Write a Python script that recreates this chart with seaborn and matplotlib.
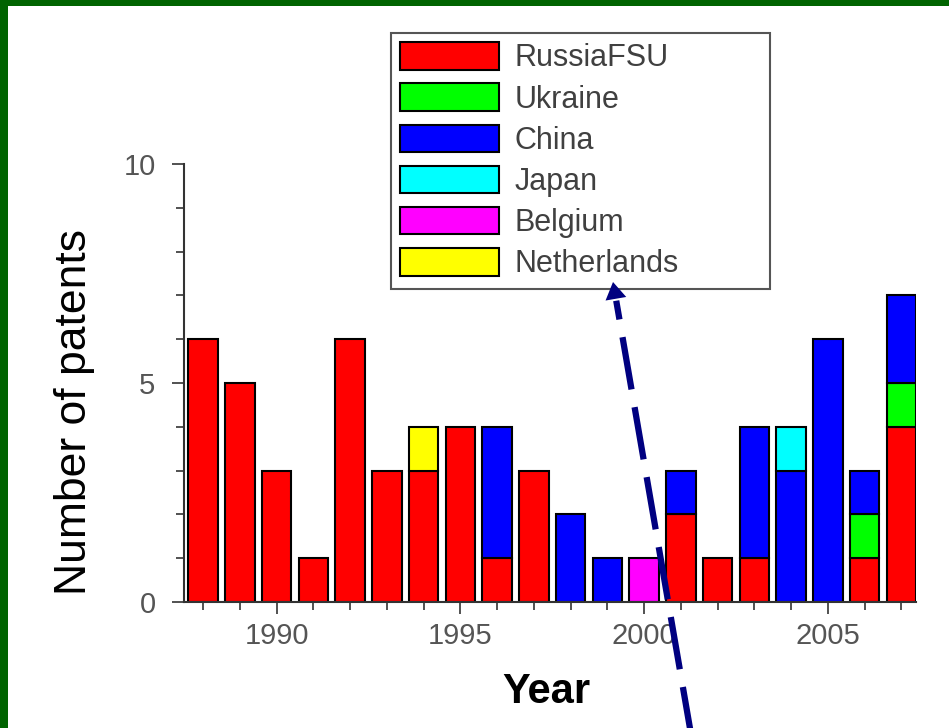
import numpy as np
import pandas as pd
import matplotlib
matplotlib.use("Agg")
import matplotlib.pyplot as plt
from matplotlib.patches import Patch, Rectangle, Polygon
from matplotlib.lines import Line2D
from matplotlib.ticker import MultipleLocator, FixedLocator
import seaborn as sns

# Patent counts per year and country of origin
years = [1988, 1989, 1990, 1991, 1992, 1993, 1994, 1995, 1996, 1997,
         1998, 1999, 2000, 2001, 2002, 2003, 2004, 2005, 2006, 2007]
russia_fsu = [6, 5, 3, 1, 6, 3, 3, 4, 1, 3, 0, 0, 0, 2, 1, 1, 0, 0, 1, 4]
ukraine = [0, 0, 0, 0, 0, 0, 0, 0, 0, 0, 0, 0, 0, 0, 0, 0, 0, 0, 1, 1]
china = [0, 0, 0, 0, 0, 0, 0, 0, 3, 0, 2, 1, 0, 1, 0, 3, 3, 6, 1, 2]
japan = [0, 0, 0, 0, 0, 0, 0, 0, 0, 0, 0, 0, 0, 0, 0, 0, 1, 0, 0, 0]
belgium = [0, 0, 0, 0, 0, 0, 0, 0, 0, 0, 0, 0, 1, 0, 0, 0, 0, 0, 0, 0]
netherlands = [0, 0, 0, 0, 0, 0, 1, 0, 0, 0, 0, 0, 0, 0, 0, 0, 0, 0, 0, 0]

countries = ["RussiaFSU", "Ukraine", "China", "Japan", "Belgium", "Netherlands"]
colors = ["#FF0000", "#00FF00", "#0000FF", "#00FFFF", "#FF00FF", "#FFFF00"]
series = [russia_fsu, ukraine, china, japan, belgium, netherlands]

rows = []
for name, values in zip(countries, series):
    for yr, v in zip(years, values):
        rows.append({"year": yr, "country": name, "count": v})
df = pd.DataFrame(rows)

sns.set_style("ticks")
plt.rcParams["font.family"] = ["Liberation Sans", "DejaVu Sans"]

W, H = 949, 728
fig = plt.figure(figsize=(W / 100, H / 100), dpi=100)
fig.patch.set_facecolor("white")

# dark green frame along the top and left edges
fig.add_artist(Rectangle((0, 1 - 6 / H), 1, 6 / H, transform=fig.transFigure,
                         facecolor="#006400", edgecolor="none", zorder=10))
fig.add_artist(Rectangle((0, 0), 8 / W, 1, transform=fig.transFigure,
                         facecolor="#006400", edgecolor="none", zorder=10))

ax = fig.add_axes([184 / W, 126 / H, 732 / W, 438 / H])
ax.set_facecolor("white")

# seaborn stacks the first hue level on top, so list the bottom series last
stack_order = countries[::-1]
palette = dict(zip(countries, colors))
sns.histplot(data=df, x="year", weights="count", hue="country",
             hue_order=stack_order, multiple="stack", discrete=True,
             shrink=0.8, palette=palette, alpha=1, edgecolor="black",
             linewidth=1.5, legend=False, ax=ax)

# drop empty segments so they do not add stray outlines on top of stacks
for p in list(ax.patches):
    if p.get_height() == 0:
        p.remove()

ax.set_xlim(1987.48, 2007.4)
ax.set_ylim(0, 10)
ax.set_xlabel("")
ax.set_ylabel("")

sns.despine(ax=ax)
for side in ("left", "bottom"):
    ax.spines[side].set_color("#333333")
    ax.spines[side].set_linewidth(1.5)

ax.xaxis.set_major_locator(FixedLocator([1990, 1995, 2000, 2005]))
ax.xaxis.set_minor_locator(FixedLocator(years))
ax.yaxis.set_major_locator(MultipleLocator(5))
ax.yaxis.set_minor_locator(MultipleLocator(1))
ax.tick_params(which="major", direction="out", length=8.5, width=1.2,
               color="#333333", labelsize=21, labelcolor="#555555")
ax.tick_params(which="minor", direction="out", length=6, width=1.2,
               color="#333333")
ax.tick_params(axis="y", which="major", pad=12)
ax.tick_params(axis="x", which="major", pad=6)

fig.text(75 / W, 1 - 412 / H, "Number of patents", rotation=90,
         ha="center", va="center", fontsize=32, color="black")
fig.text(546 / W, 1 - 692 / H, "Year", ha="center", va="center",
         fontsize=30, fontweight="bold", color="black")

handles = [Patch(facecolor=c, edgecolor="black", linewidth=1.5) for c in colors]
leg = ax.legend(handles, countries, loc="upper left",
                bbox_to_anchor=(391 / W, 1 - 288 / H, 379 / W, 255 / H),
                bbox_transform=fig.transFigure, mode="expand",
                fontsize=22, frameon=True, fancybox=False, shadow=False,
                handlelength=3.25, handleheight=1.0, handletextpad=0.5,
                labelspacing=0.33, borderpad=0.3, borderaxespad=0)
leg.get_frame().set_edgecolor("#555555")
leg.get_frame().set_linewidth(1.5)
leg.get_frame().set_alpha(1)
for t in leg.get_texts():
    t.set_color("#404040")

# dashed pointer arrow rising toward the legend
navy = "#000080"
tip = np.array([613.0, 282.0])
tail = np.array([692.0, 740.0])
d = (tail - tip) / np.linalg.norm(tail - tip)
perp = np.array([d[1], -d[0]])
head_len, head_half = 17.0, 10.5
base = tip + head_len * d
lw_pt = 4.5
px_per_unit = lw_pt * 100 / 72
dash, gap = 53 / px_per_unit, 18 / px_per_unit
offset = 34 / px_per_unit
to_fig = lambda p: (p[0] / W, 1 - p[1] / H)
start = base + 2 * d
fig.add_artist(Line2D([to_fig(start)[0], to_fig(tail)[0]],
                      [to_fig(start)[1], to_fig(tail)[1]],
                      transform=fig.transFigure, color=navy, lw=lw_pt,
                      linestyle=(offset, (dash, gap)), solid_capstyle="butt",
                      dash_capstyle="butt", zorder=20))
head = [to_fig(tip), to_fig(base + head_half * perp), to_fig(base - head_half * perp)]
fig.add_artist(Polygon(head, closed=True, transform=fig.transFigure,
                       facecolor=navy, edgecolor="none", zorder=20))

fig.savefig("out.png", dpi=100)
